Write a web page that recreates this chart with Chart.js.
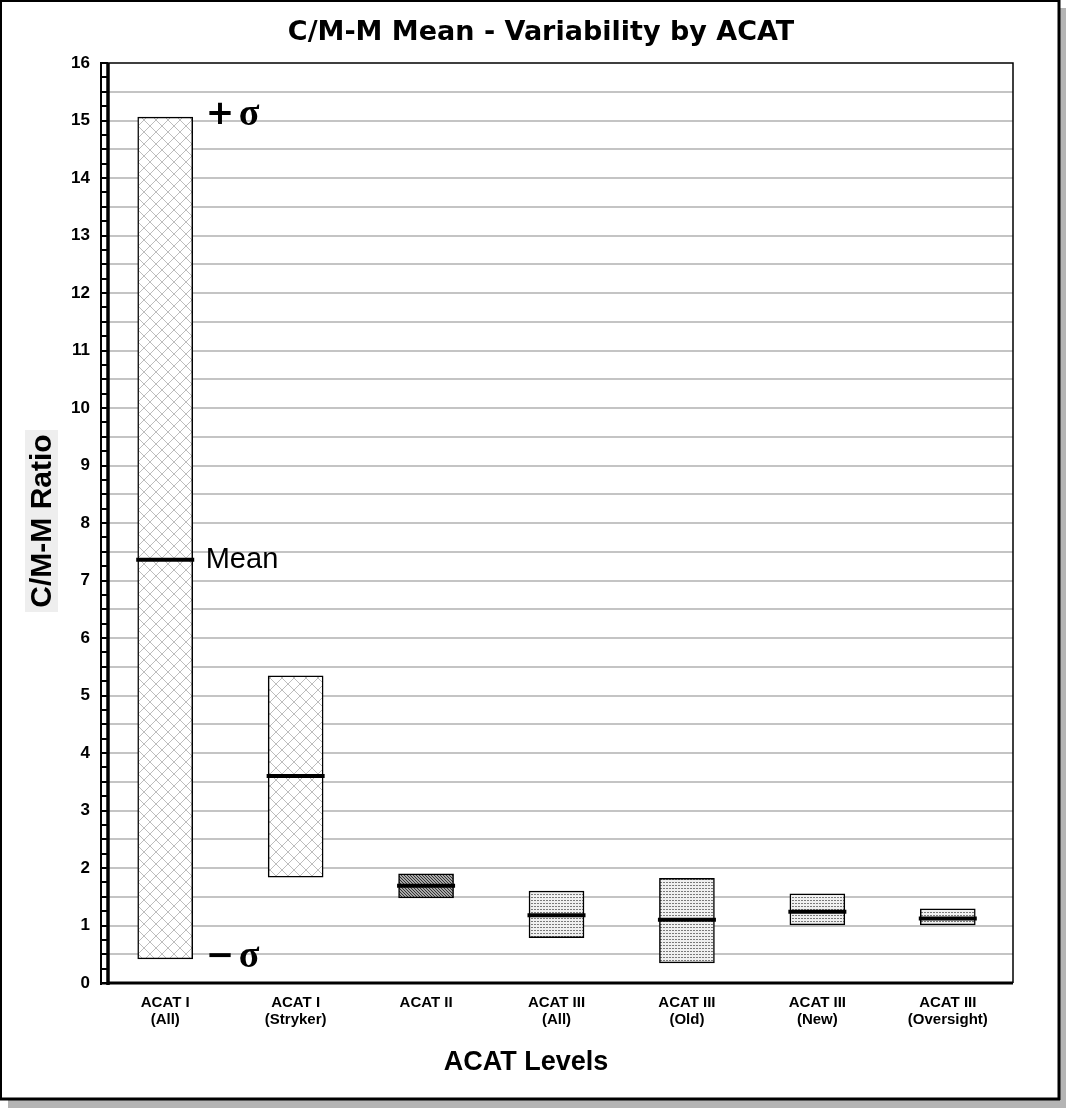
<!DOCTYPE html>
<html>
<head>
<meta charset="utf-8">
<script src="https://cdn.jsdelivr.net/npm/chart.js@4.4.1/dist/chart.umd.min.js"></script>
<style>
  html, body { margin: 0; padding: 0; background: #fff; }
</style>
</head>
<body>
<canvas id="chart" width="1066" height="1108"></canvas>
<script>
// values
const categories = [
    ['ACAT I', '(All)'],
    ['ACAT I', '(Stryker)'],
    ['ACAT II', ''],
    ['ACAT III', '(All)'],
    ['ACAT III', '(Old)'],
    ['ACAT III', '(New)'],
    ['ACAT III', '(Oversight)']
];
const lowerSigma = [0.42, 1.84, 1.48, 0.79, 0.35, 1.01, 1.01];
const upperSigma = [15.06, 5.34, 1.90, 1.60, 1.82, 1.55, 1.29];
const meanValues = [7.36, 3.60, 1.69, 1.18, 1.10, 1.24, 1.12];
const fillKinds = ['hatch', 'hatch', 'dark', 'dots', 'dots', 'dots', 'dots'];
const yMin = 0;
const yMax = 16;

const FONT = "'Liberation Sans', Arial, sans-serif";

function makePattern(kind) {
    const c = document.createElement('canvas');
    const g = c.getContext('2d');
    if (kind === 'hatch') {
        c.width = 12; c.height = 12;
        g.fillStyle = '#fff';
        g.fillRect(0, 0, 12, 12);
        g.strokeStyle = '#bdbdbd';
        g.lineWidth = 1;
        g.beginPath();
        g.moveTo(0, 0); g.lineTo(12, 12);
        g.moveTo(12, 0); g.lineTo(0, 12);
        g.stroke();
    } else if (kind === 'dark') {
        c.width = 3; c.height = 3;
        g.fillStyle = '#a8a8a8';
        g.fillRect(0, 0, 3, 3);
        g.fillStyle = '#333';
        g.fillRect(0, 0, 1, 1);
        g.fillRect(1, 1, 1, 1);
        g.fillRect(2, 2, 1, 1);
    } else {
        c.width = 3; c.height = 3;
        g.fillStyle = '#f0f0f0';
        g.fillRect(0, 0, 3, 3);
        g.fillStyle = '#7a7a7a';
        g.fillRect(0, 0, 1, 1);
        g.fillRect(1, 0, 1, 1);
    }
    return g.createPattern(c, 'repeat');
}

const decorPlugin = {
    id: 'decor',
    beforeDraw(chart) {
        const ctx = chart.ctx;
        ctx.save();
        // page, shadow and outer frame
        ctx.fillStyle = '#fff';
        ctx.fillRect(0, 0, 1066, 1108);
        ctx.fillStyle = '#b4b4b4';
        ctx.fillRect(8, 8, 1058, 1100);
        ctx.fillStyle = '#fff';
        ctx.fillRect(0, 0, 1060, 1100);
        ctx.strokeStyle = '#000';
        ctx.lineWidth = 2;
        ctx.strokeRect(1, 1, 1058, 1098);
        ctx.lineWidth = 3;
        ctx.beginPath();
        ctx.moveTo(1059, 0); ctx.lineTo(1059, 1100);
        ctx.moveTo(0, 1099); ctx.lineTo(1060, 1099);
        ctx.stroke();

        // main title
        ctx.fillStyle = '#000';
        ctx.font = "bold 27px 'DejaVu Sans', sans-serif";
        ctx.textAlign = 'center';
        ctx.textBaseline = 'middle';
        ctx.fillText('C/M-M Mean - Variability by ACAT', 541, 33);

        // y axis title with grey box
        ctx.fillStyle = '#eeeeee';
        ctx.fillRect(25, 430, 33, 182);
        ctx.save();
        ctx.translate(43, 521);
        ctx.rotate(-Math.PI / 2);
        ctx.fillStyle = '#000';
        ctx.font = 'bold 30px ' + FONT;
        ctx.fillText('C/M-M Ratio', 0, 0);
        ctx.restore();

        // x axis title
        ctx.fillStyle = '#000';
        ctx.font = 'bold 27px ' + FONT;
        ctx.fillText('ACAT Levels', 526, 1063);
        ctx.restore();
    },
    afterDraw(chart) {
        const ctx = chart.ctx;
        const area = chart.chartArea;
        const y = chart.scales.y;
        ctx.save();
        // plot frame
        ctx.strokeStyle = '#000';
        ctx.lineWidth = 1.5;
        ctx.beginPath();
        ctx.moveTo(area.left, area.top); ctx.lineTo(area.right, area.top);
        ctx.lineTo(area.right, area.bottom);
        ctx.stroke();
        ctx.lineWidth = 3;
        ctx.beginPath();
        ctx.moveTo(area.left, area.bottom); ctx.lineTo(area.right, area.bottom);
        ctx.stroke();

        // ladder-style y axis
        const lx = area.left;
        ctx.fillStyle = '#fff';
        ctx.fillRect(lx - 1, area.top, 10, area.bottom - area.top);
        ctx.lineWidth = 2;
        ctx.beginPath();
        ctx.moveTo(lx + 1, area.top); ctx.lineTo(lx + 1, area.bottom + 2);
        for (let v = yMin; v <= yMax + 0.001; v += 0.25) {
            const py = Math.round(y.getPixelForValue(v));
            ctx.moveTo(lx, py); ctx.lineTo(lx + 8, py);
        }
        ctx.stroke();
        ctx.lineWidth = 3.5;
        ctx.beginPath();
        ctx.moveTo(lx + 8, area.top); ctx.lineTo(lx + 8, area.bottom + 2);
        ctx.stroke();

        // sigma and mean annotations on the first bar
        const bar = chart.getDatasetMeta(1).data[0];
        const tx = bar.x + bar.width / 2 + 14;
        const yTop = y.getPixelForValue(upperSigma[0]);
        const yBot = y.getPixelForValue(lowerSigma[0]);
        ctx.fillStyle = '#000';
        ctx.textAlign = 'left';
        ctx.textBaseline = 'middle';
        ctx.font = "bold 34px 'DejaVu Sans', sans-serif";
        ctx.fillText('+', tx - 1, yTop - 2);
        ctx.fillText('−', tx - 1, yBot - 2);
        ctx.font = 'bold 38px "Liberation Serif", serif';
        ctx.fillText('σ', tx + 32, yTop - 2);
        ctx.fillText('σ', tx + 32, yBot - 2);
        ctx.font = '29px ' + FONT;
        ctx.fillText('Mean', tx - 1, y.getPixelForValue(meanValues[0]));
        ctx.restore();
    }
};

new Chart(document.getElementById('chart'), {
    type: 'bar',
    data: {
        labels: categories,
        datasets: [
            {
                type: 'line',
                label: 'Mean',
                data: meanValues,
                showLine: false,
                pointStyle: 'line',
                pointRadius: 29,
                pointHoverRadius: 29,
                pointBorderWidth: 4,
                pointHoverBorderWidth: 4,
                pointBorderColor: '#000',
                borderColor: '#000',
                order: 0
            },
            {
                type: 'bar',
                label: 'Mean ± sigma',
                data: lowerSigma.map((lo, i) => [lo, upperSigma[i]]),
                backgroundColor: fillKinds.map(makePattern),
                borderColor: '#000',
                borderWidth: 1.5,
                borderSkipped: false,
                barThickness: 55,
                order: 1
            }
        ]
    },
    options: {
        responsive: false,
        animation: false,
        devicePixelRatio: 1,
        layout: {
            padding: { top: 63, right: 53, left: 0, bottom: 0 }
        },
        plugins: {
            legend: { display: false },
            title: { display: false },
            tooltip: { enabled: false }
        },
        scales: {
            x: {
                grid: { display: false },
                border: { display: false },
                ticks: {
                    color: '#000',
                    font: { family: FONT, size: 15, weight: 'bold', lineHeight: 1.15 },
                    padding: 3,
                    maxRotation: 0,
                    autoSkip: false
                },
                afterFit: (scale) => { scale.height = 125; }
            },
            y: {
                min: yMin,
                max: yMax,
                border: { display: false },
                grid: {
                    color: (ctx) => (ctx.tick && (ctx.tick.value === yMin || ctx.tick.value === yMax)) ? 'rgba(0,0,0,0)' : '#c4c4c4',
                    lineWidth: 2,
                    drawTicks: false
                },
                ticks: {
                    stepSize: 0.5,
                    autoSkip: false,
                    color: '#000',
                    padding: 10,
                    font: { family: FONT, size: 17, weight: 'bold' },
                    callback: (v) => Number.isInteger(v) ? String(v) : ''
                },
                afterFit: (scale) => { scale.width = 100; }
            }
        }
    },
    plugins: [decorPlugin]
});
</script>
</body>
</html>
